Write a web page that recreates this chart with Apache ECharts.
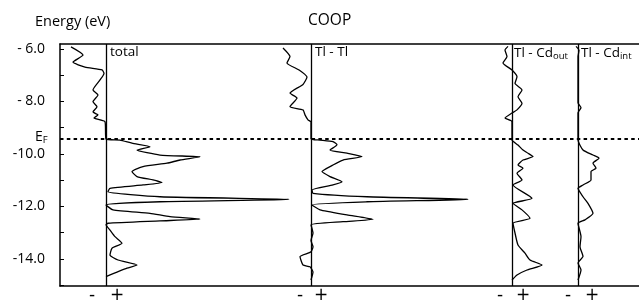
<!DOCTYPE html>
<html>
<head>
<meta charset="utf-8">
<script src="https://cdn.jsdelivr.net/npm/echarts@6/dist/echarts.min.js"></script>
<style>
html,body{margin:0;padding:0;background:#fff;}
#chart{width:639px;height:307px;}
#err{position:absolute;left:0;top:0;font:10px monospace;white-space:pre-wrap;width:639px;}
</style>
</head>
<body>
<div id="chart"></div>
<div id="err"></div>
<script>
// ---- data ----
const energyTicks = [-6, -8, -10, -12, -14];
const energyTickLabels = ['- 6.0', '- 8.0', '-10.0', '-12.0', '-14.0'];
const energyMinorTicks = [-6, -7, -8, -9, -10, -11, -12, -13, -14, -15];
const fermiEnergy = -9.43;
const panelNames = ['total', 'Tl - Tl', 'Tl - Cd{s|out}', 'Tl - Cd{s|int}'];
const signLabels = ['-', '+'];

const totalE = [-5.92, -6.23, -6.50, -6.69, -6.80, -6.93, -7.18, -7.56, -7.75, -8.01, -8.20, -8.40, -8.51, -8.63, -8.77,
  -9.43, -9.47, -9.59, -9.72, -9.85, -10.04, -10.11, -10.23, -10.35, -10.48, -10.67, -10.86, -10.99, -11.09, -11.18,
  -11.31, -11.44, -11.63, -11.73, -11.82, -11.94, -12.13, -12.26, -12.39, -12.48, -12.55, -12.64, -12.70, -12.90,
  -13.15, -13.40, -13.59, -13.85, -14.04, -14.23, -14.35, -14.67];
const totalV = [-35, -23, -33, -21, -4, -2, -6, -13, -8, -13, -9, -13, -8, -12, -1,
  0, 14, 26, 44, 31, 54, 94, 74, 61, 37, 26, 31, 47, 56, 37,
  4, 2, 54, 183, 54, 0, 7, 44, 64, 94, 54, 2, 0, 4,
  9, 16, 6, 4, 12, 31, 21, 0];

const tltlE = [-5.96, -6.29, -6.53, -6.80, -7.07, -7.35, -7.68, -7.87, -8.20, -8.32, -8.51, -8.70, -8.78,
  -9.43, -9.47, -9.53, -9.65, -9.85, -9.97, -10.10, -10.23, -10.42, -10.67, -10.86, -11.06, -11.18, -11.37,
  -11.50, -11.63, -11.73, -11.82, -11.94, -12.13, -12.32, -12.49, -12.58, -12.70, -13.01, -13.30, -13.53,
  -13.73, -13.91, -14.23, -14.30, -14.50, -14.80];
const tltlV = [-28, -21, -24, -12, -4, -8, -21, -14, -21, -8, -6, -3, 0,
  0, 9, 22, 26, 19, 36, 51, 32, 22, 11, 19, 31, 22, 1,
  2, 56, 157, 56, 1, 9, 36, 62, 32, 0, 2, 0, 2,
  0, -11, -8, -1, 2, 0];

const cdOutE = [-5.90, -6.04, -6.29, -6.53, -6.80, -7.06, -7.31, -7.56, -7.82, -8.07, -8.32, -8.44, -8.63, -8.77,
  -9.43, -9.47, -9.66, -9.85, -9.97, -10.10, -10.23, -10.42, -10.54, -10.73, -10.99, -11.18, -11.69, -11.88,
  -12.13, -12.45, -12.64, -13.01, -13.47, -13.78, -14.04, -14.23, -14.42, -14.61, -14.80];
const cdOutV = [-4, -7, -5, -9, 0, 5, 3, 10, 6, 10, 5, 0, -7, 0,
  0, 0, 6, 11, 16, 21, 11, 6, 11, 5, 10, 1, 20, 1,
  10, 18, 1, 3, 6, 13, 18, 30, 15, 5, 0];

const cdIntE = [-5.90, -6.05, -6.30, -8.05, -8.24, -8.43,
  -9.43, -9.47, -9.85, -10.04, -10.16, -10.35, -10.54, -10.67, -10.99, -11.18, -11.31, -11.63, -11.88,
  -12.26, -12.51, -12.64, -13.15, -13.53, -13.91, -14.15, -14.42, -14.80];
const cdIntV = [-2, 1, 0, 0, 3, 0,
  0, 0, 5, 15, 21, 15, 18, 13, 13, 5, 0, 5, 10,
  15, 7, 0, 3, 2, 5, 0, 3, 0];

// ---- layout ----
const FONT = 'Open Sans';
const yMin = -15.03, yMax = -5.81;
const gridBox = { left: 60, right: 0, top: 44, bottom: 21 };
const panelRanges = [[-46, 533], [-251, 328], [-452, 127], [-518, 61]];
const signPositions = [[-14, 11], [-11, 10], [-12, 11], [-10, 14]];
const panelData = [[totalE, totalV], [tltlE, tltlV], [cdOutE, cdOutV], [cdIntE, cdIntV]];
const panelLabelPos = [110, 315, 514, 581];

try {
const grids = [Object.assign({}, gridBox)];
const xAxes = [
  { gridIndex: 0, type: 'value', min: 0, max: 1, position: 'bottom',
    axisLine: { show: true, lineStyle: { color: '#000', width: 1.5 } },
    axisTick: { show: false }, axisLabel: { show: false }, splitLine: { show: false } },
  { gridIndex: 0, type: 'value', min: 0, max: 1, position: 'top',
    axisLine: { show: true, lineStyle: { color: '#000', width: 1.5 } },
    axisTick: { show: false }, axisLabel: { show: false }, splitLine: { show: false } }
];
const yAxes = [{
  gridIndex: 0, type: 'value', min: yMin, max: yMax, position: 'left',
  axisLine: { show: true, lineStyle: { color: '#000', width: 1.5 } },
  axisTick: { show: true, inside: true, length: 4, customValues: energyMinorTicks, lineStyle: { color: '#000', width: 1 } },
  axisLabel: { show: true, customValues: energyTicks, margin: 15, color: '#000', fontFamily: FONT, fontSize: 14,
    formatter: v => energyTickLabels[energyTicks.indexOf(Math.round(v))] },
  splitLine: { show: false }
}];
const series = [{
  type: 'line', xAxisIndex: 0, yAxisIndex: 0, silent: true, showSymbol: false,
  data: [[0, fermiEnergy], [1, fermiEnergy]],
  lineStyle: { color: '#000', width: 1.8, type: [3.5, 3.3] }
}];

panelData.forEach((pd, i) => {
  grids.push(Object.assign({}, gridBox));
  xAxes.push({
    gridIndex: i + 1, type: 'value', min: panelRanges[i][0], max: panelRanges[i][1], position: 'bottom',
    axisLine: { show: false }, axisTick: { show: false }, splitLine: { show: false },
    axisLabel: { show: true, customValues: signPositions[i], margin: 1, color: '#000',
      fontFamily: 'DejaVu Sans', fontSize: 17, formatter: v => (v < 0 ? signLabels[0] : signLabels[1]) }
  });
  yAxes.push({ gridIndex: i + 1, type: 'value', min: yMin, max: yMax, show: false });
  series.push({
    type: 'line', xAxisIndex: xAxes.length - 1, yAxisIndex: yAxes.length - 1, silent: true, showSymbol: false, smooth: 0.18,
    data: pd[0].map((e, k) => [pd[1][k], e]),
    lineStyle: { color: '#000', width: 1.3 },
    markLine: { silent: true, symbol: ['none', 'none'], label: { show: false },
      lineStyle: { color: '#000', width: 1.3, type: 'solid' }, data: [{ xAxis: 0 }] }
  });
});

const rich = { s: { fontSize: 9.5, fontFamily: FONT, color: '#000', padding: [6, 0, 0, 0] } };
const titles = [
  { text: 'Energy (eV)', left: 35, top: 14, size: 14.5 },
  { text: 'COOP', left: 308, top: 13, size: 15.5 },
  { text: 'E{s|F}', left: 35, top: 129, size: 14 }
];
panelNames.forEach((n, i) => titles.push({ text: n, left: panelLabelPos[i], top: 45, size: 13.5 }));
titles.forEach(t => {
  t.padding = 0;
  t.textStyle = { fontFamily: FONT, fontSize: t.size, fontWeight: 'normal', color: '#000', rich: rich };
  delete t.size;
});

const chart = echarts.init(document.getElementById('chart'), null, { renderer: 'canvas' });
chart.setOption({
  animation: false,
  backgroundColor: '#fff',
  title: titles,
  grid: grids,
  xAxis: xAxes,
  yAxis: yAxes,
  series: series
});
} catch (e) {
  document.getElementById('err').textContent = String(e && e.stack || e);
}
</script>
</body>
</html>
